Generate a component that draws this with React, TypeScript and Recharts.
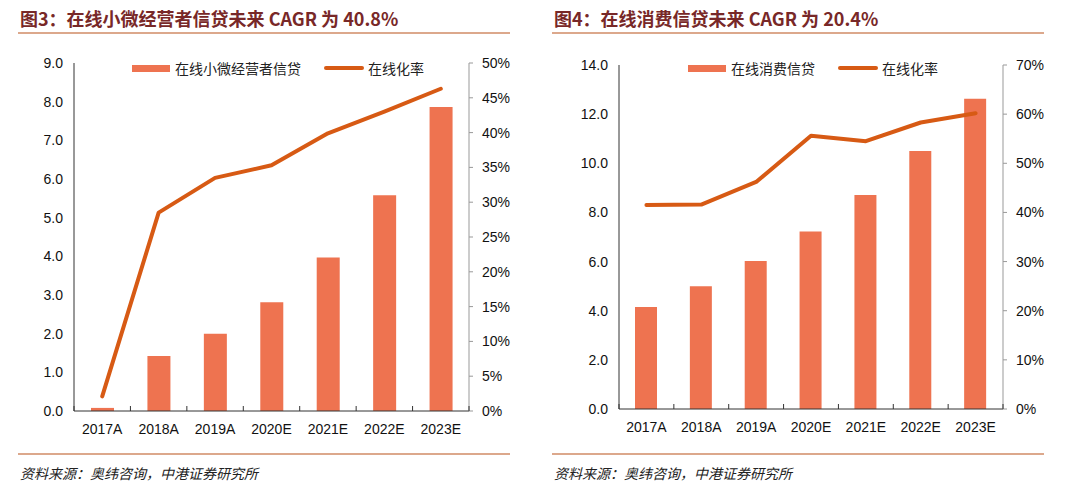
import { Bar, ComposedChart, Line, XAxis, YAxis } from 'recharts';

const years = ['2017A', '2018A', '2019A', '2020E', '2021E', '2022E', '2023E'];

// 图3: 在线小微经营者信贷 (万亿元) + 在线化率 (%)
const smeLoans = [0.08, 1.42, 2.0, 2.81, 3.97, 5.58, 7.86];
const smeOnlineRate = [2.1, 28.5, 33.5, 35.3, 39.9, 43.0, 46.3];
const smeLeftTicks = [0, 1, 2, 3, 4, 5, 6, 7, 8, 9];
const smeRightTicks = [0, 5, 10, 15, 20, 25, 30, 35, 40, 45, 50];

// 图4: 在线消费信贷 + 在线化率
const consumerLoans = [4.15, 5.0, 6.02, 7.22, 8.71, 10.5, 12.63];
const consumerOnlineRate = [41.5, 41.6, 46.2, 55.6, 54.5, 58.3, 60.2];
const consumerLeftTicks = [0, 2, 4, 6, 8, 10, 12, 14];
const consumerRightTicks = [0, 10, 20, 30, 40, 50, 60, 70];

const BAR_COLOR = '#EE7350';
const LINE_COLOR = '#D75A14';
const TITLE_COLOR = '#782828';
const RULE_COLOR = '#DCA88C';
const LATIN = '"Liberation Sans", Arial, sans-serif';
const CJK = '"Noto Sans CJK SC", sans-serif';

type PanelProps = {
  left: number;
  inset: number;
  title: string;
  barName: string;
  loans: number[];
  rates: number[];
  leftTicks: number[];
  rightTicks: number[];
  top: number;
  bottom: number;
  leftW: number;
  rightW: number;
  barSize: number;
  legendLeft: number;
  legendGap: number;
};

function Panel(p: PanelProps) {
  const data = years.map((year, i) => ({ year, loans: p.loans[i], rate: p.rates[i] }));
  const band = (540 - p.leftW - p.rightW) / years.length;

  const XTick = (props: any) => {
    const { x, y, payload, index } = props;
    return (
      <g>
        <line x1={x - band / 2} y1={y} x2={x - band / 2} y2={y - 5} stroke="#333" />
        {index === years.length - 1 && (
          <line x1={x + band / 2} y1={y} x2={x + band / 2} y2={y - 5} stroke="#333" />
        )}
        <text x={x} y={y + 18} dy="0.355em" textAnchor="middle" fontSize={14} fontFamily={LATIN} fill="#111">
          {payload.value}
        </text>
      </g>
    );
  };

  return (
    <div style={{ position: 'absolute', left: p.left, top: 0, width: 540, height: 493 }}>
      <div
        style={{
          position: 'absolute', left: p.inset + 2, top: 5, fontSize: 18, fontWeight: 700,
          color: TITLE_COLOR, fontFamily: CJK, whiteSpace: 'nowrap',
        }}
      >
        {p.title}
      </div>
      <div style={{ position: 'absolute', left: p.inset, top: 32, width: 492, height: 2, background: RULE_COLOR }} />

      <ComposedChart
        width={540}
        height={493}
        data={data}
        margin={{ top: p.top, right: 0, bottom: p.bottom - 30, left: 0 }}
      >
        <XAxis dataKey="year" height={30} tickSize={0} tickMargin={0} tickLine={false}
          axisLine={{ stroke: '#333' }} tick={<XTick />} interval={0} />
        <YAxis yAxisId="l" width={p.leftW} domain={[0, p.leftTicks[p.leftTicks.length - 1]]}
          ticks={p.leftTicks} tickFormatter={(v: number) => v.toFixed(1)} tickLine={false}
          tickSize={6} tickMargin={5} axisLine={{ stroke: '#333' }}
          tick={{ fontSize: 14, fontFamily: LATIN, fill: '#111' }} />
        <YAxis yAxisId="r" orientation="right" width={p.rightW}
          domain={[0, p.rightTicks[p.rightTicks.length - 1]]} ticks={p.rightTicks}
          tickFormatter={(v: number) => `${v}%`} tickSize={4} tickMargin={9}
          tickLine={{ stroke: '#999' }} axisLine={{ stroke: '#999' }}
          tick={{ fontSize: 14, fontFamily: LATIN, fill: '#111' }} />
        <Bar yAxisId="l" dataKey="loans" name={p.barName} fill={BAR_COLOR} barSize={p.barSize}
          isAnimationActive={false} />
        <Line yAxisId="r" dataKey="rate" name="在线化率" stroke={LINE_COLOR} strokeWidth={4}
          dot={false} activeDot={false} strokeLinejoin="round" strokeLinecap="round"
          isAnimationActive={false} />
      </ComposedChart>

      <div
        style={{
          position: 'absolute', left: p.legendLeft, top: 58, display: 'flex', alignItems: 'center',
          fontFamily: CJK, fontSize: 14, color: '#222', whiteSpace: 'nowrap',
        }}
      >
        <span style={{ display: 'inline-block', width: 38, height: 7, background: BAR_COLOR, marginRight: 5 }} />
        <span>{p.barName}</span>
        <span
          style={{
            display: 'inline-block', width: 40, height: 4, borderRadius: 2, background: LINE_COLOR,
            marginLeft: p.legendGap, marginRight: 4,
          }}
        />
        <span>在线化率</span>
      </div>

      <div style={{ position: 'absolute', left: p.inset, top: 453, width: 492, height: 2, background: RULE_COLOR }} />
      <div
        style={{
          position: 'absolute', left: p.inset + 2, top: 463, fontSize: 14, fontStyle: 'italic',
          fontFamily: CJK, color: '#222', whiteSpace: 'nowrap',
        }}
      >
        资料来源：奥纬咨询，中港证券研究所
      </div>
    </div>
  );
}

export default function App() {
  return (
    <div style={{ position: 'absolute', left: 0, top: 0, width: 1080, height: 493, background: '#fff' }}>
      <Panel
        left={0}
        inset={18}
        title="图3：在线小微经营者信贷未来 CAGR 为 40.8%"
        barName="在线小微经营者信贷"
        loans={smeLoans}
        rates={smeOnlineRate}
        leftTicks={smeLeftTicks}
        rightTicks={smeRightTicks}
        top={63}
        bottom={82}
        leftW={74}
        rightW={71}
        barSize={23}
        legendLeft={132}
        legendGap={23}
      />
      <Panel
        left={540}
        inset={12}
        title="图4：在线消费信贷未来 CAGR 为 20.4%"
        barName="在线消费信贷"
        loans={consumerLoans}
        rates={consumerOnlineRate}
        leftTicks={consumerLeftTicks}
        rightTicks={consumerRightTicks}
        top={65}
        bottom={84}
        leftW={79}
        rightW={77}
        barSize={22}
        legendLeft={148}
        legendGap={23}
      />
    </div>
  );
}
